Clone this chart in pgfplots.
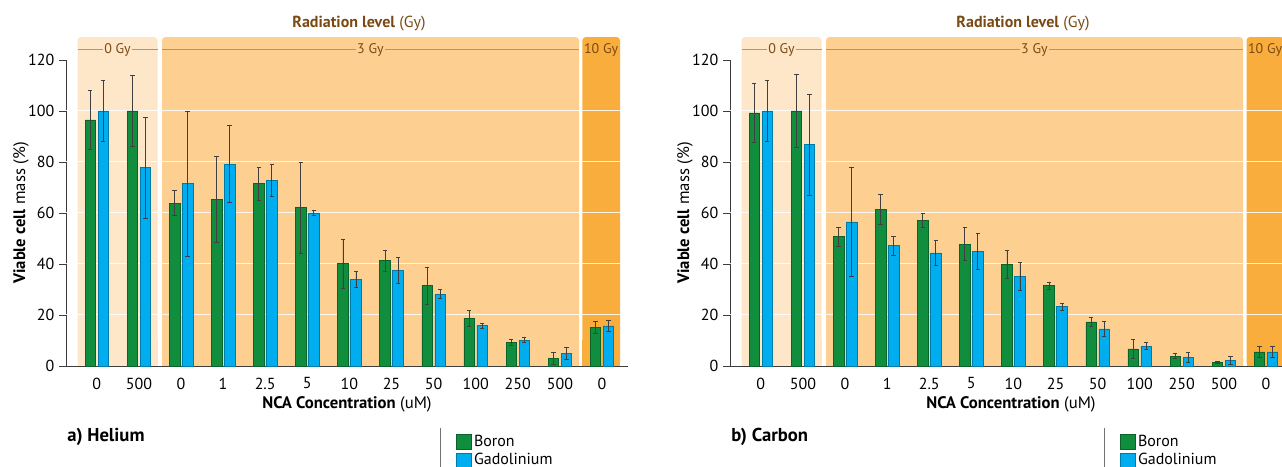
\documentclass[border=0pt]{standalone}
\usepackage{fontspec}
\setmainfont{PT Sans}
\usepackage{pgfplots}
\usepackage{pgfplotstable}
\pgfplotsset{compat=1.18}

\definecolor{cgreen}{RGB}{16,142,62}
\definecolor{cblue}{RGB}{0,174,239}
\definecolor{band0}{RGB}{253,231,200}
\definecolor{band3}{RGB}{253,208,146}
\definecolor{band10}{RGB}{249,173,61}
\definecolor{cbrown}{RGB}{122,74,20}
\definecolor{bline}{RGB}{196,146,88}
\definecolor{axgray}{RGB}{60,60,60}

\pgfplotstableread{
x b be g ge
0 96.5 11.5 100 12
1 100 13.8 77.8 19.7
2 63.9 4.9 71.6 28.4
3 65.2 16.9 79.2 15
4 71.6 6.5 72.8 6.2
5 62.1 17.8 60 1
6 40.1 9.5 33.9 3.1
7 41.3 4.2 37.4 5.1
8 31.5 7.2 28.2 1.7
9 18.7 3.2 15.8 1
10 9.3 1.2 10.1 1
11 3.0 2.2 5.0 2.4
12 15.2 2.2 15.7 2.3
}\helium

\pgfplotstableread{
x b be g ge
0 99.3 11.7 100 12
1 100 14.2 86.8 19.8
2 50.7 3.7 56.5 21.5
3 61.3 5.9 47.2 3.8
4 57.1 2.8 44.4 5
5 47.8 6.5 45 6.9
6 40 5.5 35.2 5.4
7 31.5 1.5 23.3 1.3
8 17.3 1.8 14.6 3
9 6.7 3.6 7.8 1.3
10 3.9 0.9 3.3 2
11 1.4 0.5 2.2 1.5
12 5.5 2.1 5.5 2.2
}\carbon

\newcommand{\fs}{\fontsize{12}{14}\selectfont}
\newcommand{\fl}{\fontsize{12.5}{14}\selectfont}

\pgfplotsset{panel/.style={
  scale only axis, width=421.5pt, height=229.5pt,
  xmin=-0.732, xmax=12.618, ymin=0, ymax=120,
  axis x line=bottom, axis y line=left,
  axis line style={-, axgray, line width=0.6pt},
  clip=false,
  xtick={0,...,12},
  xticklabels={0,500,0,1,2.5,5,10,25,50,100,250,500,0},
  ytick={0,20,...,120},
  xtick style={draw=none},
  ytick style={axgray, line width=0.6pt},
  tick align=outside, major tick length=5.25pt,
  tick label style={font=\fs, black},
  /pgf/number format/assume math mode=true,
  xlabel={\textbf{NCA Concentration} (uM)},
  ylabel={\textbf{Viable cell} mass (\%)},
  label style={font=\fl},
  xlabel style={at={(axis description cs:0.5,0)}, anchor=center, yshift=-28.5pt},
  ylabel style={at={(axis description cs:-0.0801,0.5)}, anchor=center},
  legend style={at={(axis description cs:0.694,-0.2157)}, anchor=north west,
    draw=none, fill=none, inner sep=0pt, font=\fontsize{12}{14}\selectfont, row sep=0pt},
  legend cell align=left,
}}

\newcommand{\bands}{%
  \fill[band0, rounded corners=2.5pt] (axis cs:-0.458,0) rectangle (axis cs:1.442,129);
  \fill[band0] (axis cs:-0.458,0) rectangle (axis cs:1.442,10);
  \fill[band3, rounded corners=2.5pt] (axis cs:1.549,0) rectangle (axis cs:11.454,129);
  \fill[band3] (axis cs:1.549,0) rectangle (axis cs:11.454,10);
  \fill[band10, rounded corners=2.5pt] (axis cs:11.537,0) rectangle (axis cs:12.428,129);
  \fill[band10] (axis cs:11.537,0) rectangle (axis cs:12.428,10);
  \pgfplotsinvokeforeach{20,40,60,80,100}{
    \draw[white, opacity=0.85, line width=0.75pt] (axis cs:-0.732,##1) -- (axis cs:12.618,##1);
  }
  \draw[bline, line width=0.8pt] (axis cs:-0.458,124) -- (axis cs:1.442,124);
  \draw[bline, line width=0.8pt] (axis cs:1.549,124) -- (axis cs:11.454,124);
  \node[fill=band0, inner sep=1pt, text=cbrown, font=\fontsize{10.5}{12}\selectfont] at (axis cs:0.492,124) {0 Gy};
  \node[fill=band3, inner sep=1pt, text=cbrown, font=\fontsize{10.5}{12}\selectfont] at (axis cs:6.5,124) {3 Gy};
  \node[inner sep=0pt, text=cbrown, font=\fontsize{10.5}{12}\selectfont] at (axis cs:11.98,124) {10 Gy};
  \node[text=cbrown, font=\fs] at (axis cs:6.228,134.4) {\textbf{Radiation level} (Gy)};
}

\newcommand{\bars}[1]{%
  \addplot[ybar, bar width=7.9pt, bar shift=0pt, fill=cgreen, draw=cgreen!70!black, line width=0.4pt,
    legend image code/.code={\draw[fill=cgreen, draw=cgreen!70!black, line width=0.4pt] (0pt,-5.4pt) rectangle (10.9pt,5.4pt);},
    error bars/.cd, y dir=both, y explicit,
    error bar style={line width=0.5pt, black!75},
    error mark options={rotate=90, line width=0.5pt, black!75, mark size=1.6pt}]
    table[x expr=\thisrow{x}-0.1544, y=b, y error=be] {#1};
  \addplot[ybar, bar width=7.9pt, bar shift=0pt, fill=cblue, draw=cblue!70!black, line width=0.4pt,
    legend image code/.code={\draw[fill=cblue, draw=cblue!70!black, line width=0.4pt] (0pt,-5.4pt) rectangle (10.9pt,5.4pt);},
    error bars/.cd, y dir=both, y explicit,
    error bar style={line width=0.5pt, black!75},
    error mark options={rotate=90, line width=0.5pt, black!75, mark size=1.6pt}]
    table[x expr=\thisrow{x}+0.1544, y=g, y error=ge] {#1};
  \legend{Boron, Gadolinium}
}

\begin{document}
\begin{tikzpicture}[x=0.75pt, y=0.75pt]
\begin{axis}[panel, at={(49.5pt,75.75pt)}, anchor=south west]
  \bands
  \bars{\helium}
\end{axis}
\begin{axis}[panel, at={(547.5pt,75.75pt)}, anchor=south west]
  \bands
  \bars{\carbon}
\end{axis}
\draw[black!55, line width=0.6pt] (440,39) -- (440,0);
\draw[black!55, line width=0.6pt] (1104,39) -- (1104,0);
\node[anchor=west, inner sep=0pt, font=\fontsize{14}{16}\selectfont\bfseries] at (67,30) {a) Helium};
\node[anchor=west, inner sep=0pt, font=\fontsize{14}{16}\selectfont\bfseries] at (731,30) {b) Carbon};
\pgfresetboundingbox
\useasboundingbox (0,0) rectangle (1282,467);
\end{tikzpicture}
\end{document}
